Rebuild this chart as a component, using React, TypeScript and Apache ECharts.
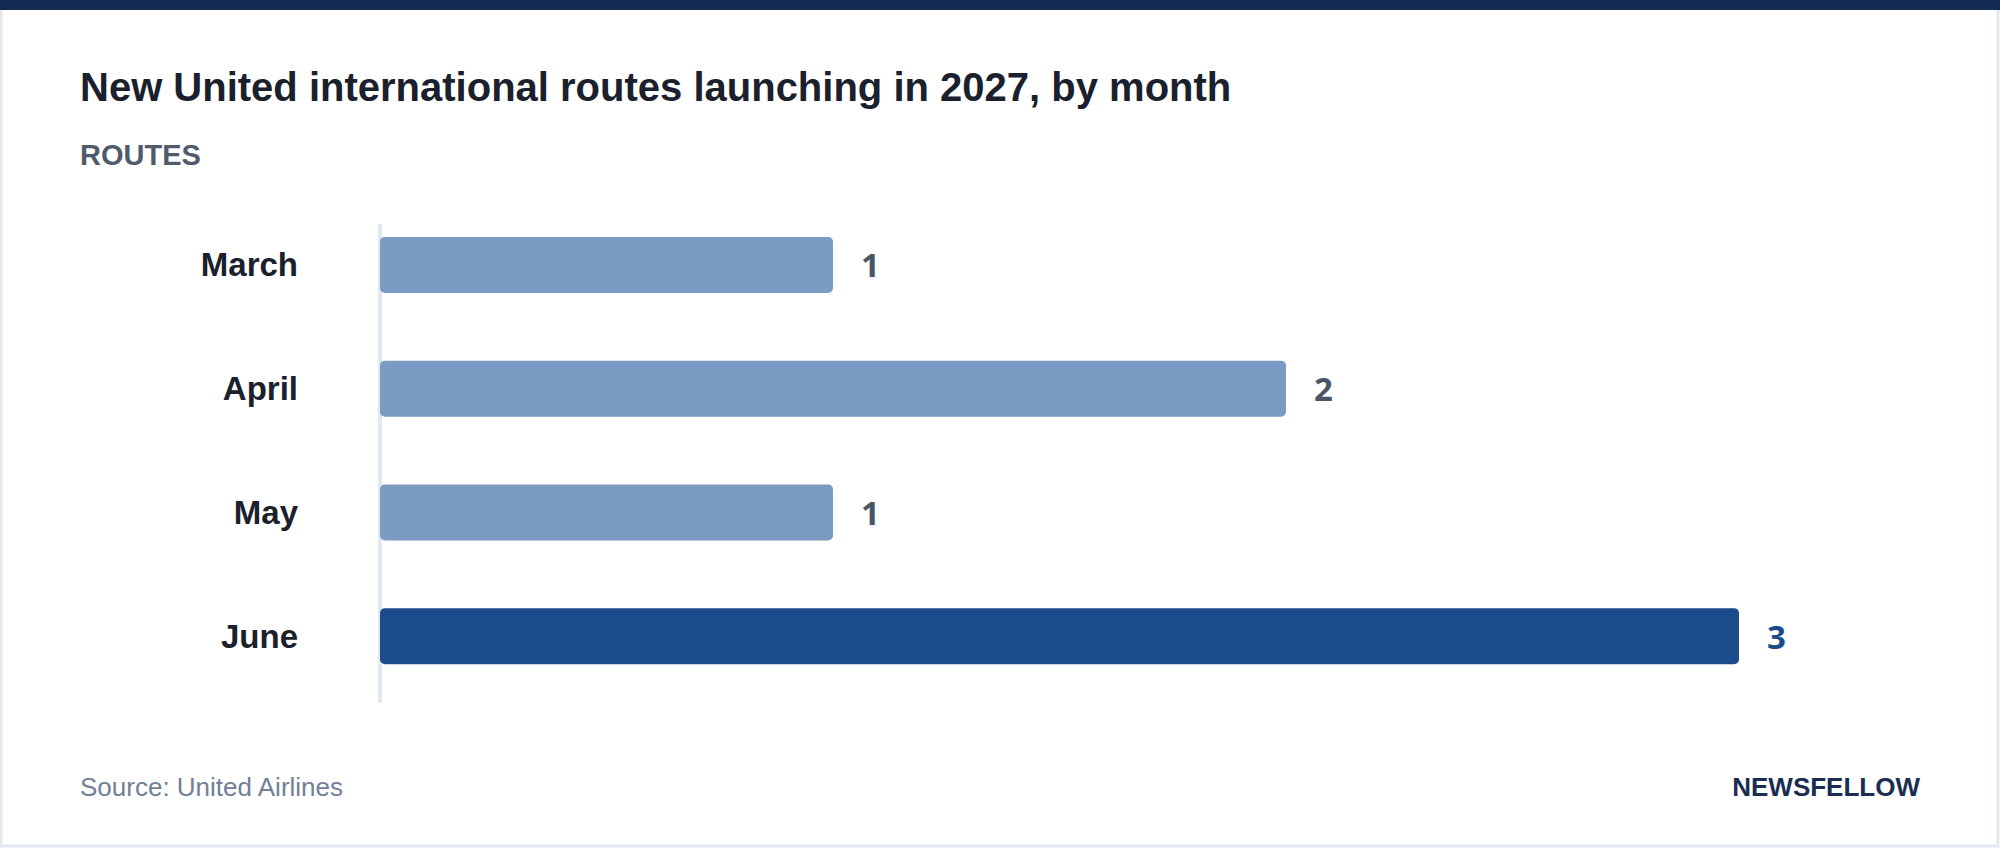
import React, { useEffect, useRef } from "react";
import * as echarts from "echarts";

const categories = ["March", "April", "May", "June"];
const routes = [1, 2, 1, 3];
const highlightMonth = "June";
const axisMax = 3;

const TITLE = "New United international routes launching in 2027, by month";
const SUBTITLE = "ROUTES";
const SOURCE = "Source: United Airlines";
const BRAND = "NEWSFELLOW";

const SANS = "'Liberation Sans', Arial, Helvetica, sans-serif";
const NUM = "'Open Sans', 'Noto Sans', sans-serif";

export default function App() {
  const ref = useRef<HTMLDivElement>(null);
  useEffect(() => {
    document.body.style.margin = "0";
    const chart = echarts.init(ref.current!, null, { renderer: "svg" });
    const data = categories.map((c, i) => {
      const hi = c === highlightMonth;
      return {
        value: routes[i],
        itemStyle: { color: hi ? "#1b4b8b" : "#7b9ac4" },
        label: { color: hi ? "#1b4b8b" : "#4a5568" },
      };
    });
    chart.setOption({
      animation: false,
      backgroundColor: "#ffffff",
      grid: { left: 380, top: 203, width: 1359, height: 495, containLabel: false },
      xAxis: {
        type: "value",
        min: 0,
        max: axisMax,
        show: false,
      },
      yAxis: {
        type: "category",
        data: categories,
        inverse: true,
        axisLine: { show: false },
        axisTick: { show: false },
        splitLine: { show: false },
        axisLabel: {
          margin: 82,
          fontSize: 33,
          fontWeight: "bold",
          color: "#1a202c",
          fontFamily: SANS,
        },
      },
      graphic: [
        {
          type: "rect",
          shape: { x: 1, y: 1, width: 1997, height: 845 },
          style: { fill: "none", stroke: "#e2e8f0", lineWidth: 3 },
          z: 0,
        },
        {
          type: "rect",
          shape: { x: 0, y: 0, width: 2000, height: 10 },
          style: { fill: "#152a52" },
          z: 1,
        },
        {
          type: "line",
          shape: { x1: 380, y1: 224, x2: 380, y2: 703 },
          style: { stroke: "#e2e8f0", lineWidth: 4 },
          z: 0,
        },
        {
          type: "text",
          x: 80,
          y: 87,
          style: {
            text: TITLE,
            fill: "#1a202c",
            font: `bold 40px ${SANS}`,
            verticalAlign: "middle",
            align: "left",
          },
        },
        {
          type: "text",
          x: 80,
          y: 155,
          style: {
            text: SUBTITLE,
            fill: "#4f5b6b",
            font: `bold 29px ${SANS}`,
            verticalAlign: "middle",
            align: "left",
          },
        },
        {
          type: "text",
          x: 80,
          y: 787,
          style: {
            text: SOURCE,
            fill: "#718096",
            font: `26px ${SANS}`,
            verticalAlign: "middle",
            align: "left",
          },
        },
        {
          type: "text",
          x: 1920,
          y: 787,
          style: {
            text: BRAND,
            fill: "#1a2e52",
            font: `bold 26px ${SANS}`,
            verticalAlign: "middle",
            align: "right",
          },
        },
      ],
      series: [
        {
          type: "bar",
          data,
          barWidth: 56,
          itemStyle: { borderRadius: 5 },
          label: {
            show: true,
            position: "right",
            distance: 28,
            fontSize: 33,
            fontWeight: "bold",
            fontFamily: NUM,
          },
          z: 2,
        },
      ],
    });
    return () => chart.dispose();
  }, []);
  return (
    <div
      ref={ref}
      style={{ position: "absolute", left: 0, top: 0, width: 2000, height: 848 }}
    />
  );
}
